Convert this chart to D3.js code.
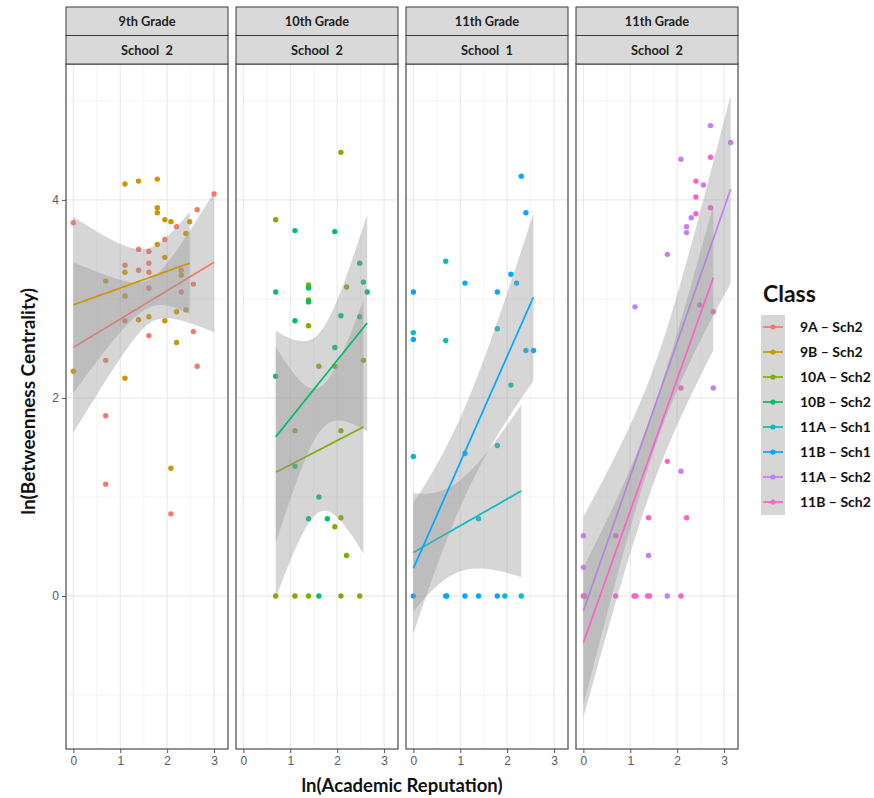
<!DOCTYPE html>
<html>
<head>
<meta charset="utf-8">
<script src="https://cdn.jsdelivr.net/npm/d3@7"></script>
<style>
  body { margin: 0; background: #fff; }
  svg text { white-space: pre; }
</style>
</head>
<body>
<script>
const width = 874, height = 798;
const plotLeft = 66, plotTop = 64, plotBottom = 749;
const panelW = 162, panelGap = 8;

// facets
const panelGrade = ["9th Grade", "10th Grade", "11th Grade", "11th Grade"];
const panelSchool = ["School  2", "School  2", "School  1", "School  2"];

// classes
const classNames = ["9A – Sch2", "9B – Sch2", "10A – Sch2", "10B – Sch2",
                    "11A – Sch1", "11B – Sch1", "11A – Sch2", "11B – Sch2"];
const classColors = ["#F8766D", "#CD9600", "#7CAE00", "#00BE67",
                     "#00BFC4", "#00A9FF", "#C77CFF", "#FF61CC"];
const classPanel = [0, 0, 1, 1, 2, 2, 3, 3];

// points [ln(academic reputation), ln(betweenness centrality)]
const points9A = [[0, 3.77], [3.00, 4.06], [2.64, 3.90], [2.20, 3.73], [1.95, 3.60], [1.39, 3.50],
  [1.61, 3.48], [1.10, 3.34], [1.39, 3.29], [1.61, 3.36], [1.61, 3.27], [2.30, 3.29], [1.61, 3.11],
  [2.56, 3.15], [2.30, 3.07], [1.10, 2.78], [1.61, 2.63], [2.56, 2.67], [0.69, 2.38], [2.64, 2.32],
  [0.69, 1.82], [0.69, 1.13], [2.08, 0.83]];
const points9B = [[1.10, 4.16], [1.39, 4.19], [1.79, 4.21], [1.79, 3.92], [1.79, 3.87], [1.95, 3.80],
  [2.08, 3.78], [2.48, 3.78], [2.40, 3.66], [1.79, 3.55], [1.95, 3.42], [1.10, 3.27], [0.69, 3.18],
  [2.30, 3.24], [1.10, 3.03], [1.39, 2.79], [1.61, 2.82], [1.95, 2.78], [2.20, 2.87], [2.40, 2.89],
  [2.20, 2.56], [0, 2.27], [1.10, 2.20], [2.08, 1.29]];
const points10A = [[2.08, 4.48], [0.69, 3.80], [1.39, 3.14], [1.39, 2.99], [2.20, 3.12], [1.39, 2.73],
  [1.61, 2.32], [1.95, 2.32], [2.56, 2.38], [1.10, 1.67], [2.08, 1.67], [2.08, 0.79], [1.95, 0.70],
  [2.20, 0.41], [0.69, 0], [1.10, 0], [1.39, 0], [2.08, 0], [2.48, 0]];
const points10B = [[1.10, 3.69], [1.95, 3.68], [2.48, 3.36], [0.69, 3.07], [1.39, 3.11], [1.39, 2.97],
  [2.56, 3.17], [2.64, 3.07], [1.10, 2.78], [2.08, 2.83], [2.48, 2.82], [1.95, 2.51], [0.69, 2.22],
  [1.10, 1.31], [1.61, 1.00], [1.39, 0.78], [1.79, 0.78], [1.61, 0]];
const points11A1 = [[0.69, 3.38], [0, 2.66], [0.69, 2.58], [1.79, 2.70], [2.08, 2.13], [0, 1.41],
  [1.79, 1.52], [1.39, 0.78], [1.95, 0], [2.30, 0]];
const points11B1 = [[2.30, 4.24], [2.40, 3.87], [1.10, 3.16], [0, 3.07], [1.79, 3.07], [2.08, 3.25],
  [2.20, 3.16], [0, 2.59], [2.40, 2.48], [2.56, 2.48], [1.10, 1.44], [0, 0], [0.69, 0], [0.71, 0],
  [1.10, 0], [1.39, 0], [1.79, 0]];
const points11A2 = [[2.71, 4.75], [3.14, 4.58], [2.08, 4.41], [2.56, 4.15], [2.30, 3.82], [2.20, 3.73],
  [2.20, 3.67], [1.79, 3.45], [1.10, 2.92], [2.77, 2.10], [2.08, 1.26], [0, 0.61], [1.39, 0.41],
  [0, 0.29], [1.79, 0]];
const points11B2 = [[2.71, 4.43], [2.40, 4.19], [2.40, 4.03], [2.71, 3.92], [2.40, 3.86], [2.48, 2.94],
  [2.77, 2.87], [2.08, 2.10], [1.79, 1.36], [1.39, 0.79], [2.20, 0.79], [0.69, 0.61], [0, 0], [0.03, 0],
  [0.69, 0], [1.08, 0], [1.12, 0], [1.37, 0], [1.41, 0], [2.08, 0]];
const classPoints = [points9A, points9B, points10A, points10B,
                     points11A1, points11B1, points11A2, points11B2];

// linear fits, with the 95% band half-widths
const fitIntercept = [2.51, 2.94, 1.08, 1.20, 0.44, 0.28, -0.15, -0.47];
const fitSlope     = [0.287, 0.17, 0.245, 0.59, 0.27, 1.07, 1.356, 1.33];
const bandCenterX  = [1.66, 1.65, 1.62, 1.65, 0.80, 1.03, 1.57, 1.42];
const bandMinHalf  = [0.22, 0.30, 0.63, 0.50, 0.45, 0.45, 0.42, 0.38];
const bandLeftHalf = [0.86, 0.89, 1.27, 1.07, 0.60, 0.66, 0.95, 0.76];

const xTicks = [0, 1, 2, 3], xMinor = [0.5, 1.5, 2.5];
const yTicks = [0, 2, 4], yMinor = [-1, 1, 3, 5];

// smooth curves (80 steps like geom_smooth)
const smooths = classNames.map((name, i) => {
    const [x0, x1] = d3.extent(classPoints[i], d => d[0]);
    const k = (bandLeftHalf[i] ** 2 - bandMinHalf[i] ** 2) / ((x0 - bandCenterX[i]) ** 2);
    return d3.range(80).map(j => {
        const x = x0 + (x1 - x0) * j / 79;
        const y = fitIntercept[i] + fitSlope[i] * x;
        const h = Math.sqrt(bandMinHalf[i] ** 2 + k * (x - bandCenterX[i]) ** 2);
        return {x, y, lo: y - h, hi: y + h};
    });
});

function expand(ext) {
    const pad = (ext[1] - ext[0]) * 0.05;
    return [ext[0] - pad, ext[1] + pad];
}
const xDom = expand(d3.extent(classPoints.flat(), d => d[0]));
const yDom = expand(d3.extent(classPoints.flat().map(d => d[1])
    .concat(smooths.flat().flatMap(d => [d.lo, d.hi]))));

const x = d3.scaleLinear().domain(xDom).range([0, panelW]);
const y = d3.scaleLinear().domain(yDom).range([plotBottom, plotTop]);

const titleFont = "Lato, 'Open Sans', sans-serif";
const tickFont = "'Liberation Sans Narrow', 'Liberation Sans', Arial, sans-serif";

const svg = d3.select("body").append("svg")
    .attr("width", width).attr("height", height)
    .style("display", "block");

svg.append("defs").append("clipPath").attr("id", "panelClip")
    .append("rect").attr("x", 0).attr("y", plotTop)
    .attr("width", panelW).attr("height", plotBottom - plotTop);

panelGrade.forEach((grade, p) => {
    const g = svg.append("g")
        .attr("transform", `translate(${plotLeft + p * (panelW + panelGap)},0)`);

    g.append("rect").attr("x", 0).attr("y", plotTop)
        .attr("width", panelW).attr("height", plotBottom - plotTop)
        .attr("fill", "#fff");

    // grid
    g.selectAll(".xminor").data(xMinor).join("line")
        .attr("x1", d => x(d)).attr("x2", d => x(d))
        .attr("y1", plotTop).attr("y2", plotBottom)
        .attr("stroke", "#F2F2F2").attr("stroke-width", 0.8);
    g.selectAll(".yminor").data(yMinor).join("line")
        .attr("y1", d => y(d)).attr("y2", d => y(d))
        .attr("x1", 0).attr("x2", panelW)
        .attr("stroke", "#F2F2F2").attr("stroke-width", 0.8);
    g.selectAll(".xmajor").data(xTicks).join("line")
        .attr("x1", d => x(d)).attr("x2", d => x(d))
        .attr("y1", plotTop).attr("y2", plotBottom)
        .attr("stroke", "#EBEBEB").attr("stroke-width", 1.2);
    g.selectAll(".ymajor").data(yTicks).join("line")
        .attr("y1", d => y(d)).attr("y2", d => y(d))
        .attr("x1", 0).attr("x2", panelW)
        .attr("stroke", "#EBEBEB").attr("stroke-width", 1.2);

    const ids = d3.range(classNames.length).filter(i => classPanel[i] === p);
    const inner = g.append("g").attr("clip-path", "url(#panelClip)");

    // points first, then ribbon + line per class (as geom_smooth does)
    ids.forEach(i => {
        inner.append("g").selectAll("circle").data(classPoints[i]).join("circle")
            .attr("cx", d => x(d[0])).attr("cy", d => y(d[1]))
            .attr("r", 2.7).attr("fill", classColors[i]);
    });
    ids.forEach(i => {
        inner.append("path").datum(smooths[i])
            .attr("d", d3.area().x(d => x(d.x)).y0(d => y(d.lo)).y1(d => y(d.hi)))
            .attr("fill", "#999999").attr("fill-opacity", 0.4);
        inner.append("path").datum(smooths[i])
            .attr("d", d3.line().x(d => x(d.x)).y(d => y(d.y)))
            .attr("fill", "none").attr("stroke", classColors[i]).attr("stroke-width", 1.7);
    });

    g.append("rect").attr("x", 0).attr("y", plotTop)
        .attr("width", panelW).attr("height", plotBottom - plotTop)
        .attr("fill", "none").attr("stroke", "#6e6e6e").attr("stroke-width", 1.5);

    // strips
    [grade, panelSchool[p]].forEach((label, s) => {
        const top = 7 + s * 28.5;
        g.append("rect").attr("x", 0).attr("y", top)
            .attr("width", panelW).attr("height", 28.5)
            .attr("fill", "#D9D9D9").attr("stroke", "#3a3a3a").attr("stroke-width", 1);
        g.append("text").attr("x", panelW / 2).attr("y", top + 14.25)
            .attr("text-anchor", "middle").attr("dominant-baseline", "central")
            .attr("font-family", titleFont).attr("font-weight", "bold")
            .attr("font-size", 12.8).attr("fill", "#222").text(label);
    });

    // x axis
    const ax = g.append("g").attr("transform", `translate(0,${plotBottom})`)
        .call(d3.axisBottom(x).tickValues(xTicks).tickSize(4).tickPadding(3).tickFormat(d3.format("d")));
    ax.select(".domain").remove();
    ax.selectAll("line").attr("stroke", "#555");
    ax.selectAll("text").attr("font-family", tickFont).attr("font-size", 12).attr("fill", "#595959");

    if (p === 0) {
        const ay = g.append("g")
            .call(d3.axisLeft(y).tickValues(yTicks).tickSize(4).tickPadding(3).tickFormat(d3.format("d")));
        ay.select(".domain").remove();
        ay.selectAll("line").attr("stroke", "#555");
        ay.selectAll("text").attr("font-family", tickFont).attr("font-size", 12).attr("fill", "#595959");
    }
});

const plotRight = plotLeft + 4 * panelW + 3 * panelGap;

svg.append("text")
    .attr("x", (plotLeft + plotRight) / 2).attr("y", 792)
    .attr("text-anchor", "middle")
    .attr("font-family", titleFont).attr("font-weight", "bold")
    .attr("font-size", 18.5).attr("fill", "#111")
    .text("ln(Academic Reputation)");

svg.append("text")
    .attr("transform", `translate(35,${(plotTop + plotBottom) / 2 - 5}) rotate(-90)`)
    .attr("text-anchor", "middle")
    .attr("font-family", titleFont).attr("font-weight", "bold")
    .attr("font-size", 19).attr("fill", "#111")
    .text("ln(Betweenness Centrality)");

// legend
const legend = svg.append("g").attr("transform", "translate(761,0)");
legend.append("text").attr("x", 2).attr("y", 302)
    .attr("font-family", titleFont).attr("font-weight", "bold")
    .attr("font-size", 23).attr("fill", "#111").text("Class");
legend.append("rect").attr("x", 0).attr("y", 315)
    .attr("width", 24).attr("height", 200)
    .attr("fill", "#999999").attr("fill-opacity", 0.4);
const keys = legend.selectAll(".key").data(classNames).join("g")
    .attr("transform", (d, i) => `translate(0,${327 + i * 25})`);
keys.append("line").attr("x1", 2).attr("x2", 22)
    .attr("stroke", (d, i) => classColors[i]).attr("stroke-width", 1.7);
keys.append("circle").attr("cx", 12).attr("r", 2.6)
    .attr("fill", (d, i) => classColors[i]);
keys.append("text").attr("x", 39).attr("dy", "0.35em")
    .attr("font-family", titleFont).attr("font-weight", "bold")
    .attr("font-size", 14).attr("fill", "#111").text(d => d);
</script>
</body>
</html>
